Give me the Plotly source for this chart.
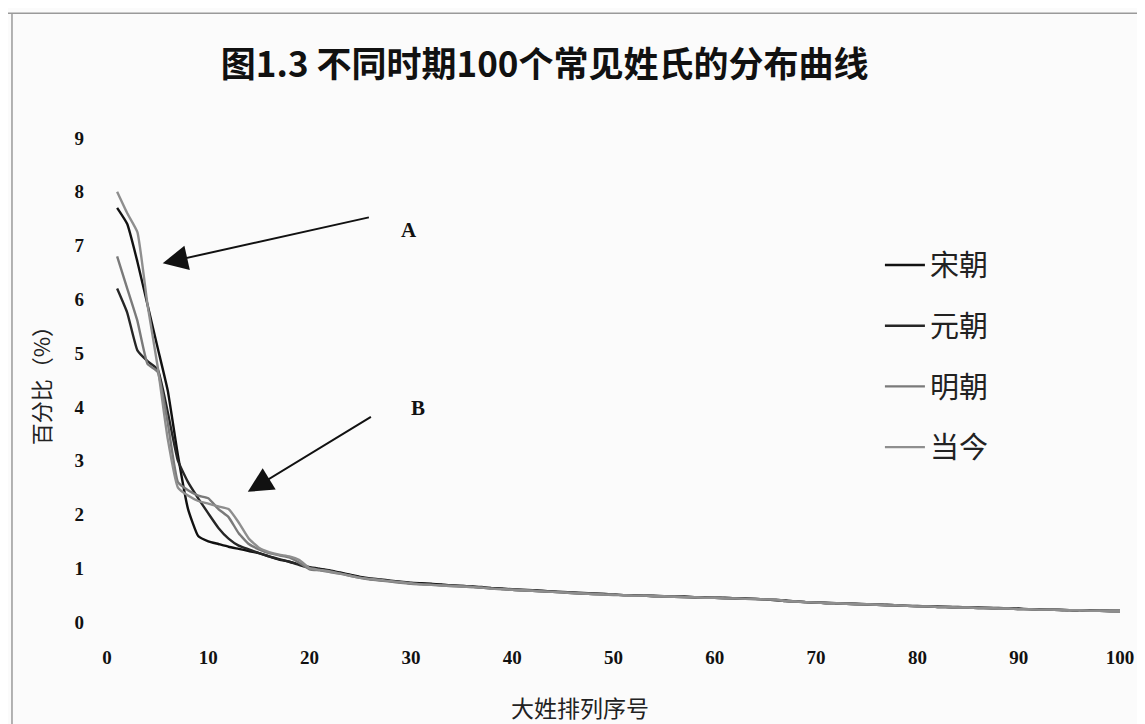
import plotly.graph_objects as go

rank = list(range(1, 101))

song = [7.7, 7.4, 6.7, 5.9, 5.1, 4.3, 3.1, 2.1, 1.6, 1.5,
        1.45, 1.4, 1.36, 1.32, 1.28, 1.22, 1.16, 1.12, 1.07, 1.02,
        0.99, 0.96, 0.92, 0.88, 0.84, 0.81, 0.79, 0.77, 0.75, 0.73,
        0.72, 0.71, 0.70, 0.68, 0.67, 0.66, 0.64, 0.63, 0.62, 0.61,
        0.60, 0.59, 0.58, 0.57, 0.56, 0.55, 0.54, 0.53, 0.52, 0.51,
        0.50, 0.50, 0.49, 0.49, 0.48, 0.47, 0.47, 0.46, 0.46, 0.45,
        0.45, 0.44, 0.44, 0.43, 0.42, 0.41, 0.40, 0.38, 0.37, 0.36,
        0.36, 0.35, 0.34, 0.34, 0.33, 0.32, 0.32, 0.31, 0.30, 0.30,
        0.29, 0.29, 0.28, 0.28, 0.27, 0.27, 0.26, 0.26, 0.25, 0.25,
        0.24, 0.24, 0.23, 0.23, 0.22, 0.22, 0.22, 0.21, 0.21, 0.21]

yuan = [6.2, 5.75, 5.05, 4.85, 4.7, 3.9, 3.0, 2.6, 2.3, 2.02,
        1.75, 1.55, 1.42, 1.35, 1.28, 1.22, 1.17, 1.12, 1.06, 1.01,
        0.98, 0.95, 0.91, 0.87, 0.83, 0.80, 0.78, 0.76, 0.74, 0.72,
        0.71, 0.70, 0.69, 0.68, 0.67, 0.66, 0.65, 0.63, 0.62, 0.60,
        0.59, 0.58, 0.57, 0.56, 0.55, 0.54, 0.53, 0.52, 0.52, 0.51,
        0.50, 0.50, 0.49, 0.48, 0.48, 0.47, 0.47, 0.46, 0.45, 0.45,
        0.44, 0.44, 0.43, 0.43, 0.42, 0.41, 0.39, 0.38, 0.37, 0.36,
        0.35, 0.35, 0.34, 0.33, 0.33, 0.32, 0.31, 0.31, 0.30, 0.29,
        0.29, 0.28, 0.28, 0.27, 0.27, 0.26, 0.26, 0.25, 0.25, 0.24,
        0.24, 0.23, 0.23, 0.22, 0.22, 0.22, 0.21, 0.21, 0.20, 0.20]

ming = [6.8, 6.2, 5.6, 4.8, 4.65, 3.7, 2.6, 2.45, 2.35, 2.3,
        2.1, 1.95, 1.65, 1.45, 1.35, 1.28, 1.24, 1.20, 1.10, 0.98,
        0.96, 0.93, 0.90, 0.86, 0.82, 0.79, 0.77, 0.75, 0.73, 0.71,
        0.70, 0.69, 0.68, 0.67, 0.66, 0.65, 0.64, 0.62, 0.61, 0.60,
        0.59, 0.58, 0.57, 0.56, 0.55, 0.54, 0.53, 0.52, 0.51, 0.50,
        0.50, 0.49, 0.49, 0.48, 0.47, 0.47, 0.46, 0.46, 0.45, 0.45,
        0.44, 0.44, 0.43, 0.42, 0.42, 0.41, 0.39, 0.38, 0.37, 0.36,
        0.35, 0.35, 0.34, 0.33, 0.33, 0.32, 0.31, 0.31, 0.30, 0.29,
        0.29, 0.28, 0.28, 0.27, 0.27, 0.26, 0.26, 0.25, 0.25, 0.24,
        0.24, 0.23, 0.23, 0.23, 0.22, 0.22, 0.21, 0.21, 0.21, 0.20]

today = [8.0, 7.6, 7.25, 5.9, 4.75, 3.4, 2.5, 2.35, 2.25, 2.2,
         2.15, 2.1, 1.85, 1.55, 1.38, 1.30, 1.25, 1.22, 1.15, 1.00,
         0.97, 0.94, 0.90, 0.86, 0.82, 0.80, 0.78, 0.76, 0.74, 0.72,
         0.70, 0.69, 0.68, 0.67, 0.66, 0.65, 0.64, 0.62, 0.61, 0.60,
         0.59, 0.58, 0.57, 0.56, 0.55, 0.54, 0.53, 0.52, 0.51, 0.51,
         0.50, 0.49, 0.49, 0.48, 0.48, 0.47, 0.46, 0.46, 0.45, 0.45,
         0.44, 0.44, 0.43, 0.43, 0.42, 0.42, 0.39, 0.38, 0.37, 0.36,
         0.35, 0.35, 0.34, 0.33, 0.33, 0.32, 0.31, 0.31, 0.30, 0.29,
         0.29, 0.28, 0.28, 0.27, 0.27, 0.26, 0.26, 0.25, 0.25, 0.24,
         0.24, 0.23, 0.23, 0.22, 0.22, 0.22, 0.21, 0.21, 0.20, 0.20]

series_names = ["宋朝", "元朝", "明朝", "当今"]
series_values = [song, yuan, ming, today]
series_colors = ["#111111", "#262626", "#7a7a7a", "#8e8e8e"]

x_ticks = [0, 10, 20, 30, 40, 50, 60, 70, 80, 90, 100]
y_ticks = [0, 1, 2, 3, 4, 5, 6, 7, 8, 9]

fig = go.Figure()
for name, vals, col in zip(series_names, series_values, series_colors):
    fig.add_trace(go.Scatter(
        x=rank, y=vals, mode="lines", name=name, legendgroup=name,
        line=dict(color=col, width=2.4, shape="spline", smoothing=0.4),
    ))

tick_font = dict(family="Liberation Serif", size=19, color="#111111", weight="bold")
cjk = "Noto Sans CJK SC"

fig.update_layout(
    width=1137, height=716,
    paper_bgcolor="#fbfbfb", plot_bgcolor="#fbfbfb",
    margin=dict(l=99, r=25, t=130, b=102),
    showlegend=True,
    legend=dict(
        x=0.763, y=0.79, xanchor="left", yanchor="top",
        font=dict(family=cjk, size=29, color="#222222"),
        bgcolor="rgba(0,0,0,0)", tracegroupgap=20,
        itemwidth=40,
    ),
    title=dict(
        text="图1.3 不同时期100个常见姓氏的分布曲线",
        x=0.472, xanchor="center", y=0.921, yanchor="middle",
        font=dict(family=cjk, size=35, color="#111111", weight="bold"),
    ),
    xaxis=dict(range=[0, 100], tickvals=x_ticks, ticktext=[str(v) for v in x_ticks],
               showgrid=False, zeroline=False, showline=False, ticks="",
               tickfont=tick_font, ticklabelstandoff=22),
    yaxis=dict(range=[0, 9], tickvals=y_ticks, ticktext=[str(v) for v in y_ticks],
               showgrid=False, zeroline=False, showline=False, ticks="",
               tickfont=tick_font, ticklabelstandoff=22),
)

# axis titles
fig.add_annotation(text="大姓排列序号", xref="paper", yref="paper", x=0.467, y=-0.176,
                   xanchor="center", yanchor="middle",
                   showarrow=False, font=dict(family=cjk, size=23, color="#222222"))
fig.add_annotation(text="百分比（%）", xref="paper", yref="paper", x=-0.066, y=0.5,
                   xanchor="center", yanchor="middle",
                   textangle=-90, showarrow=False,
                   font=dict(family=cjk, size=22, color="#222222"))

# arrows A and B
arrow_font = dict(family="Liberation Serif", size=21, color="#111111", weight="bold")
fig.add_annotation(x=5.5, y=6.67, ax=26.0, ay=7.53, xref="x", yref="y", axref="x", ayref="y",
                   text="", showarrow=True, arrowhead=2, arrowsize=2.5, arrowwidth=2,
                   arrowcolor="#111111")
fig.add_annotation(x=29.8, y=7.29, xref="x", yref="y", text="A", showarrow=False, font=arrow_font)
fig.add_annotation(x=13.9, y=2.42, ax=26.2, ay=3.83, xref="x", yref="y", axref="x", ayref="y",
                   text="", showarrow=True, arrowhead=2, arrowsize=2.5, arrowwidth=2,
                   arrowcolor="#111111")
fig.add_annotation(x=30.7, y=3.98, xref="x", yref="y", text="B", showarrow=False, font=arrow_font)

# page frame lines
fig.add_shape(type="line", xref="paper", yref="paper", x0=-0.1, x1=1.03, y0=1.258, y1=1.258,
              line=dict(color="#9a9a9a", width=1.5))
fig.add_shape(type="line", xref="paper", yref="paper", x0=-0.0938, x1=-0.0938, y0=1.258, y1=-0.22,
              line=dict(color="#9a9a9a", width=1.5))

fig.write_html("out.html")
